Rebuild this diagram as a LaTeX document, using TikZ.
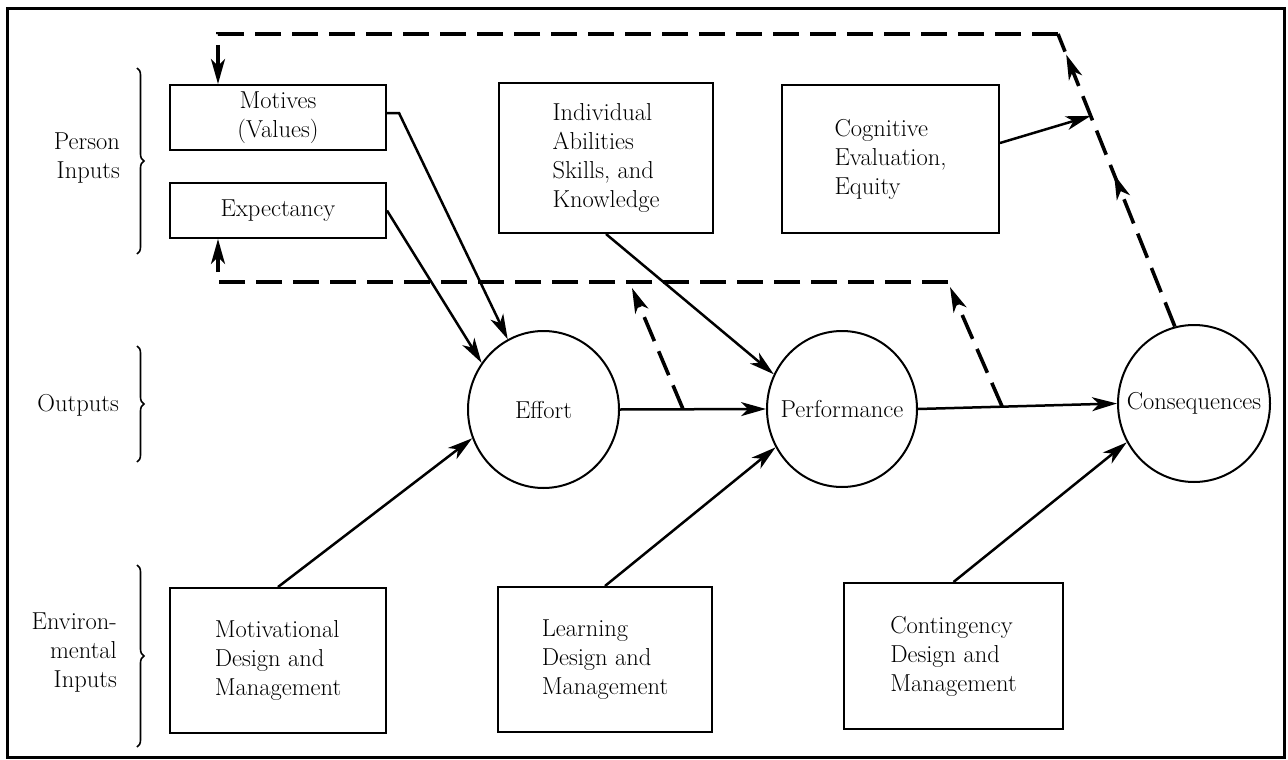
\documentclass[tikz,border=0pt]{standalone}
\usetikzlibrary{arrows.meta,shapes.geometric,decorations.pathreplacing,decorations.markings}
\begin{document}
\begin{tikzpicture}[x=1pt,y=-1pt,
  font=\fontsize{24.5}{29}\selectfont,
  tipA/.tip={Stealth[length=25pt,width=14pt,inset=7pt]},
  box/.style={draw,line width=2pt,inner sep=0pt,align=left},
  oval/.style={draw,ellipse,line width=2pt,inner sep=0pt},
  arr/.style={line width=2.5pt,-tipA},
  dsh/.style={line width=3.6pt,dash pattern=on 26pt off 11pt},
  dsharr/.style={dsh,-tipA},
  brc/.style={line width=1.6pt,decorate,decoration={brace,amplitude=7pt}},
  lbl/.style={anchor=east,align=right,inner sep=0pt}]
\useasboundingbox (0,0) rectangle (1288,760);
\draw[line width=3pt] (7,9) rectangle (1284,757);

% side labels and braces
\node[lbl] (lpi) at (120,158) {Person\\Inputs};
\node[lbl] (lout) at (119,405) {Outputs};
\node[lbl] (lenv) at (117,653) {Environ-\\mental\\Inputs};
\draw[brc] (137,68) -- (137,254);
\draw[brc] (137,346) -- (137,462);
\draw[brc] (137,565) -- (137,747);

% boxes
\node[box,align=center,minimum width=216pt,minimum height=65pt] (mot) at (278,117.5) {Motives\\(Values)};
\node[box,align=center,minimum width=216pt,minimum height=55pt] (exp) at (278,210.5) {Expectancy};
\node[box,minimum width=214pt,minimum height=150pt] (ind) at (606,158) {Individual\\Abilities\\Skills, and\\Knowledge};
\node[box,minimum width=217pt,minimum height=148pt] (cog) at (890.5,159) {Cognitive\\Evaluation,\\Equity};
\node[box,minimum width=216pt,minimum height=145pt] (motv) at (278,660.5) {Motivational\\Design and\\Management};
\node[box,minimum width=214pt,minimum height=145pt] (lrn) at (605,659.5) {Learning\\Design and\\Management};
\node[box,minimum width=219pt,minimum height=146pt] (cnt) at (953.5,656) {Contingency\\Design and\\Management};

% ovals
\node[oval,minimum width=151pt,minimum height=157pt,label=center:{Effort}] (eff) at (543.5,409.5) {};
\node[oval,minimum width=150pt,minimum height=156pt,label=center:{Performance}] (perf) at (842,409) {};
\node[oval,minimum width=152pt,minimum height=157pt,label=center:{Consequences}] (cons) at (1194,403.5) {};

% helper coordinates
\coordinate (tl) at (218,34);
\coordinate (tr) at (1058,34);
\coordinate (bl) at (218,282);
\coordinate (br) at (948,282);
\path (eff.east) -- (perf.west) coordinate[pos=0.432] (b1);
\path (perf.east) -- (cons.west) coordinate[pos=0.423] (b2);
\coordinate (b1t) at (632,288);
\coordinate (b2t) at (950,287);
\path (cons.104) -- (tr) coordinate[pos=0.72] (cj);
\coordinate (mk) at ([xshift=12pt,yshift=4.5pt]mot.east);

% solid arrows
\draw[arr] ([yshift=4.5pt]mot.east) -- (mk) -- (eff.117);
\draw[arr] (exp.east) -- (eff.143);
\draw[arr] (motv.north) -- (eff.202);
\draw[arr] (eff.east) -- (perf.west);
\draw[arr] (ind.south) -- (perf.153);
\draw[arr] (lrn.north) -- (perf.210);
\draw[arr] (perf.east) -- (cons.west);
\draw[arr] (cnt.north) -- (cons.210);
\draw[arr] ([yshift=16pt]cog.east) -- (cj);

% dashed feedback
\draw[dsh,postaction={decorate},decoration={markings,
    mark=at position 0.52 with {\arrow{tipA}},
    mark=at position 0.93 with {\arrow{tipA}}}] (cons.104) -- (tr);
\draw[dsharr] (tr) -- (tl) -- (tl |- mot.north);
\draw[dsharr] (br) -- (bl) -- (bl |- exp.south);
\draw[dsharr] (b1) -- (b1t);
\draw[dsharr] (b2) -- (b2t);
\end{tikzpicture}
\end{document}
